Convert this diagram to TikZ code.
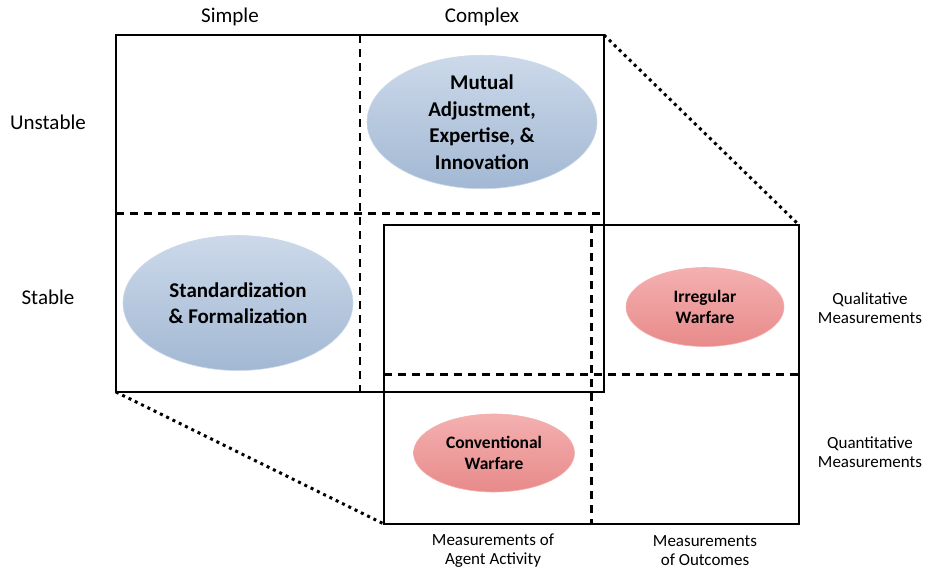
\documentclass[tikz,border=0pt]{standalone}
\usepackage{fontspec}
\setmainfont{Carlito}
\usepackage{tikz}
\usetikzlibrary{arrows}
\usetikzlibrary{positioning}
\usetikzlibrary{shapes.geometric}

\definecolor{bluetop}{HTML}{CCD9EA}
\definecolor{bluemid}{HTML}{B2C5DD}
\definecolor{bluebot}{HTML}{A2B8D3}
\definecolor{redtop}{HTML}{F4B0B0}
\definecolor{redmid}{HTML}{EE9898}
\definecolor{redbot}{HTML}{E88A8A}

\begin{document}
\begin{tikzpicture}[x=1pt, y=-1pt]

\tikzstyle{box}=[draw, line width=2.7pt, rectangle, inner sep=0pt, outer sep=0pt]
\tikzstyle{divider}=[draw, line width=2.5pt, dash pattern=on 8pt off 6pt]
\tikzstyle{zoom}=[draw, line width=3pt, dash pattern=on 3pt off 4pt]
\tikzstyle{axis}=[font=\fontsize{21}{26}\selectfont, align=center]
\tikzstyle{measure}=[font=\fontsize{17}{19}\selectfont, align=center]
\tikzstyle{blueoval}=[ellipse, draw=bluetop, line width=0.6pt, top color=bluetop, middle color=bluemid, bottom color=bluebot, inner sep=0pt, font=\fontsize{21}{26.5}\selectfont\bfseries, align=center]
\tikzstyle{redoval}=[ellipse, draw=redtop, line width=0.6pt, top color=redtop, middle color=redmid, bottom color=redbot, inner sep=0pt, font=\fontsize{17.5}{21.5}\selectfont\bfseries, align=center]

\useasboundingbox (0,0) rectangle (925,571);

% the two grids
\node[box, minimum width=488pt, minimum height=357pt] (org_box) at (360,213.5) {};
\node[box, minimum width=415pt, minimum height=299pt] (war_box) at (591.5,374.5) {};

\path[divider] (org_box.north) -- (org_box.south);
\path[divider] (org_box.west) -- (org_box.east);
\path[divider] (war_box.north) -- (war_box.south);
\path[divider] (war_box.west) -- (war_box.east);

\path[zoom] (org_box.north east) -- (war_box.north east);
\path[zoom] (org_box.south west) -- (war_box.south west);

% ovals
\node[blueoval, minimum width=230pt, minimum height=130pt] (mutual) at (482,122) {Mutual\\Adjustment,\\Expertise, \&\\Innovation};
\node[blueoval, minimum width=230pt, minimum height=135pt] (standard) at (238,303) {Standardization\\\& Formalization};
\node[redoval, minimum width=158pt, minimum height=79pt] (irregular) at (705,307) {Irregular\\Warfare};
\node[redoval, minimum width=161pt, minimum height=78pt] (conventional) at (494,453) {Conventional\\Warfare};

% axis labels
\node[axis] (simple) at (230,17) {Simple};
\node[axis] (complex) at (482,17) {Complex};
\node[axis] (unstable) at (48,122) {Unstable};
\node[axis] (stable) at (48,297) {Stable};

\node[measure] (qualitative) at (870,308) {Qualitative\\Measurements};
\node[measure] (quantitative) at (870,452) {Quantitative\\Measurements};
\node[measure] (agent_activity) at (493,551) {Measurements of\\Agent Activity};
\node[measure] (outcomes) at (705,551) {Measurements\\of Outcomes};

\end{tikzpicture}
\end{document}
